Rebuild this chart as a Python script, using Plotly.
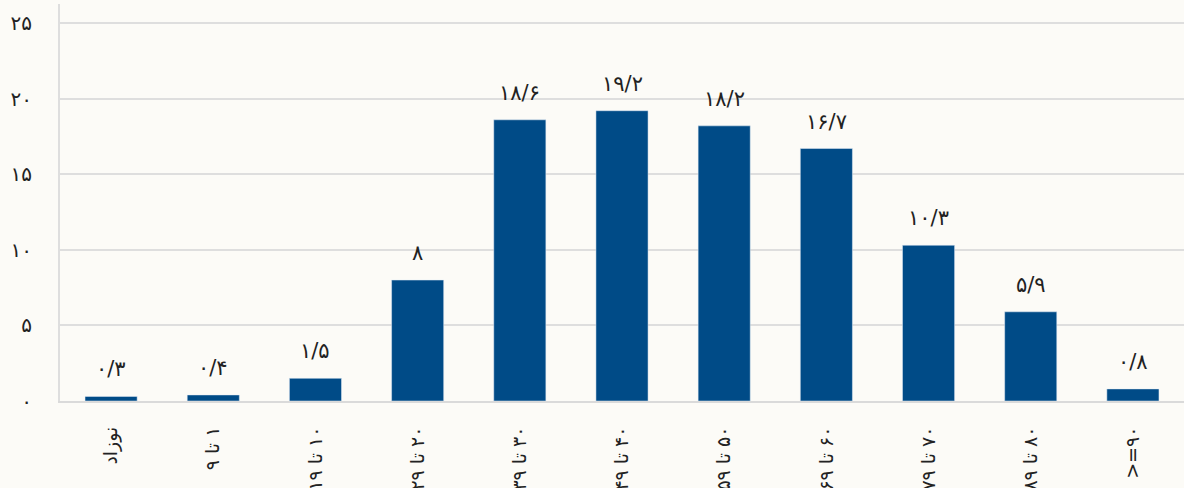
import plotly.graph_objects as go

RLM = "\u200f"
categories = ["نوزاد", "۱ تا ۹", "۱۰ تا ۱۹", "۲۰ تا ۲۹", "۳۰ تا ۳۹", "۴۰ تا ۴۹",
              "۵۰ تا ۵۹", "۶۰ تا ۶۹", "۷۰ تا ۷۹", "۸۰ تا ۸۹", ">=۹۰"]
values = [0.3, 0.4, 1.5, 8, 18.6, 19.2, 18.2, 16.7, 10.3, 5.9, 0.8]
value_labels = ["۰/۳", "۰/۴", "۱/۵", "۸", "۱۸/۶", "۱۹/۲", "۱۸/۲", "۱۶/۷", "۱۰/۳", "۵/۹", "۰/۸"]
y_ticks = [0, 5, 10, 15, 20, 25]
y_tick_labels = ["۰", "۵", "۱۰", "۱۵", "۲۰", "۲۵"]

FONT = "DejaVu Sans"
x_pos = list(range(len(categories)))
tick_text = [c if c.startswith(">") else RLM + c for c in categories]

fig = go.Figure()
fig.add_trace(go.Bar(x=x_pos, y=values, marker_color="#004B87", width=0.51,
                     hoverinfo="skip"))
for xp, v, t in zip(x_pos, values, value_labels):
    fig.add_annotation(x=xp, y=v, text=t, showarrow=False, yanchor="bottom",
                       yshift=13, font=dict(family=FONT, size=21, color="#222"))

fig.update_layout(
    width=1184, height=488,
    margin=dict(l=60, r=0, t=4, b=87),
    paper_bgcolor="#FCFBF7", plot_bgcolor="#FCFBF7",
    showlegend=False,
    xaxis=dict(tickvals=x_pos, ticktext=tick_text, range=[-0.5, len(categories) - 0.5],
               tickangle=-90, tickfont=dict(family=FONT, size=19, color="#222"),
               showline=True, linecolor="#DADADA", linewidth=2, ticks="",
               automargin=False, ticklabelstandoff=16),
    yaxis=dict(range=[0, 26.26], tickvals=y_ticks, ticktext=y_tick_labels,
               tickfont=dict(family=FONT, size=20, color="#222"),
               showgrid=True, gridcolor="#DEDEDE", gridwidth=2,
               showline=True, linecolor="#DEDEDE", linewidth=2,
               zeroline=False, ticks="", automargin=False, ticklabelstandoff=22),
)
fig.write_html("out.html", config={"displayModeBar": False},
               post_script="document.body.style.margin='0';document.body.style.overflow='hidden';")
